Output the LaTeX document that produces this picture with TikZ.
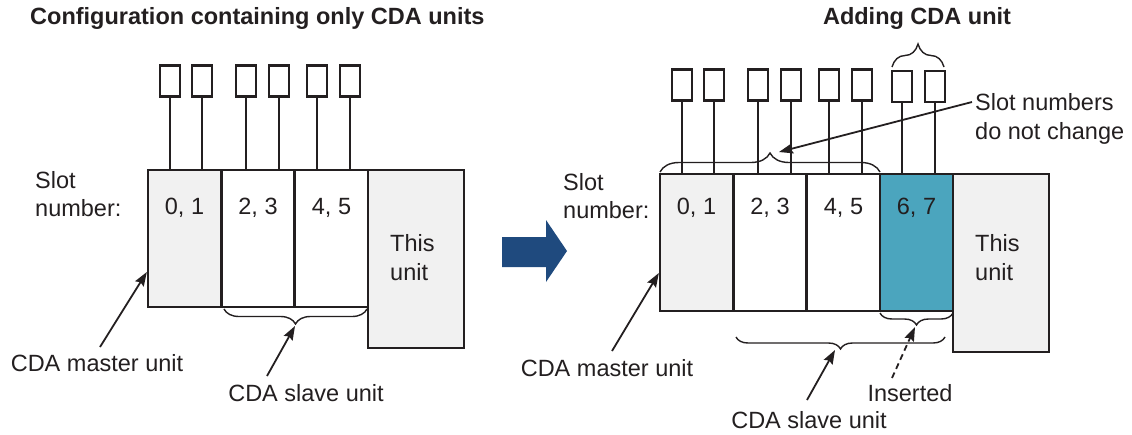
\documentclass[tikz,border=0pt]{standalone}
\usepackage{fontspec}
\setmainfont{Liberation Sans}
\usetikzlibrary{arrows.meta,decorations.pathreplacing,calc}
\definecolor{ink}{HTML}{231F20}
\definecolor{unitgray}{HTML}{F1F1F1}
\definecolor{insblue}{HTML}{4BA5BE}
\definecolor{arrowblue}{HTML}{1F4A7E}
\begin{document}
\begin{tikzpicture}[x=1pt,y=-1pt,
  txt/.style={font=\fontsize{23.5}{28.5}\selectfont, text=ink, inner sep=0pt},
  ttl/.style={font=\fontsize{23.5}{28}\selectfont\bfseries, text=ink, inner sep=0pt},
  unitbox/.style={draw=ink, line width=2.3pt, minimum width=73pt, minimum height=137pt, inner sep=0pt},
  bigunit/.style={unitbox, fill=unitgray, minimum width=96pt, minimum height=178pt},
  pinbox/.style={draw=ink, line width=2.1pt, minimum width=20pt, minimum height=31pt, inner sep=0pt},
  wire/.style={draw=ink, line width=1.8pt},
  brc/.style={draw=ink, line width=1.4pt, decorate, decoration={brace, amplitude=#1}},
  callout/.style={draw=ink, line width=1.8pt, -{Stealth[length=14pt,width=10pt,inset=2pt]}},
]
\useasboundingbox (0,0) rectangle (1132,434);

% ---------------- titles ----------------
\node[ttl, anchor=west] (t1) at (30,18) {Configuration containing only CDA units};
\node[ttl] (t2) at (917,18) {Adding CDA unit};

% ---------------- left configuration ----------------
\node[unitbox, fill=unitgray] (lm) at (184.5,238.5) {};
\node[unitbox, fill=white] (ls1) at (258,238.5) {};
\node[unitbox, fill=white] (ls2) at (331.5,238.5) {};
\node[bigunit] (lt) at (416,259) {};

\node[txt] (lmn) at (184.5,208) {0, 1};
\node[txt] (ls1n) at (258,208) {2, 3};
\node[txt] (ls2n) at (331.5,208) {4, 5};
\node[txt, align=left, anchor=west] (ltt) at (390,257.5) {This\\unit};
\node[txt, align=left, anchor=west] (lslot) at (35,194) {Slot\\number:};

\foreach \n/\x in {1/170,2/202,3/246,4/279,5/317,6/350}{
  \node[pinbox] (lp\n) at (\x,81) {};
  \draw[wire] (lp\n.south) -- (lp\n.south |- lm.north);
}

\draw[brc=15] (367,309) -- (224,309);

\node[txt] (lmt) at (97,363) {CDA master unit};
\node[txt] (lst) at (306,393) {CDA slave unit};
\coordinate (lma) at (100,347);
\coordinate (lsa) at (267,376);
\coordinate (lsb) at (295,326);
\draw[callout] (lma) -- ([yshift=-33.5pt]lm.west);
\draw[callout] (lsa) -- (lsb);

% ---------------- arrow ----------------
\fill[arrowblue] (502,237) -- (546,237) -- (546,220) -- (567,251) -- (546,282) -- (546,267) -- (502,267) -- cycle;

% ---------------- right configuration ----------------
\node[unitbox, fill=unitgray] (rm) at (696.5,242.5) {};
\node[unitbox, fill=white] (rs1) at (770,242.5) {};
\node[unitbox, fill=white] (rs2) at (843.5,242.5) {};
\node[unitbox, fill=insblue] (rin) at (916.5,242.5) {};
\node[bigunit] (rt) at (1001,263) {};

\node[txt] (rmn) at (696.5,208) {0, 1};
\node[txt] (rs1n) at (770,208) {2, 3};
\node[txt] (rs2n) at (843.5,208) {4, 5};
\node[txt] (rinn) at (916.5,208) {6, 7};
\node[txt, align=left, anchor=west] (rtt) at (975,257.5) {This\\unit};
\node[txt, align=left, anchor=west] (rslot) at (563,196) {Slot\\number:};

\foreach \n/\x in {1/682,2/714,3/758,4/791,5/829,6/862}{
  \node[pinbox] (rp\n) at (\x,85) {};
  \draw[wire] (rp\n.south) -- (rp\n.south |- rm.north);
}
\foreach \n/\x in {7/902,8/935}{
  \node[pinbox] (rp\n) at (\x,86.5) {};
  \draw[wire] (rp\n.south) -- (rp\n.south |- rin.north);
}

\draw[brc=19] (660,172) -- (880,172);
\draw[brc=23] (892,67) -- (944,67);
\draw[brc=12] (953,313) -- (880,313);
\draw[brc=12] (945,337) -- (736,337);

\node[txt, align=left, anchor=west] (rnc) at (975,119) {Slot numbers\\do not change};
\node[txt] (rmt) at (607,368) {CDA master unit};
\node[txt] (rst) at (809,420) {CDA slave unit};
\node[txt] (rins) at (910,393) {Inserted};

\coordinate (rnca) at (972,102);
\coordinate (rncb) at (779,152);
\coordinate (rma) at (612,351);
\coordinate (rsa) at (807,400);
\coordinate (rsb) at (835,350);
\coordinate (ria) at (892,378);
\coordinate (rib) at (915,327);
\draw[callout] (rnca) -- (rncb);
\draw[callout] (rma) -- ([yshift=-30.5pt]rm.west);
\draw[callout] (rsa) -- (rsb);
\draw[callout, dash pattern=on 6pt off 4pt] (ria) -- (rib);
\end{tikzpicture}
\end{document}
